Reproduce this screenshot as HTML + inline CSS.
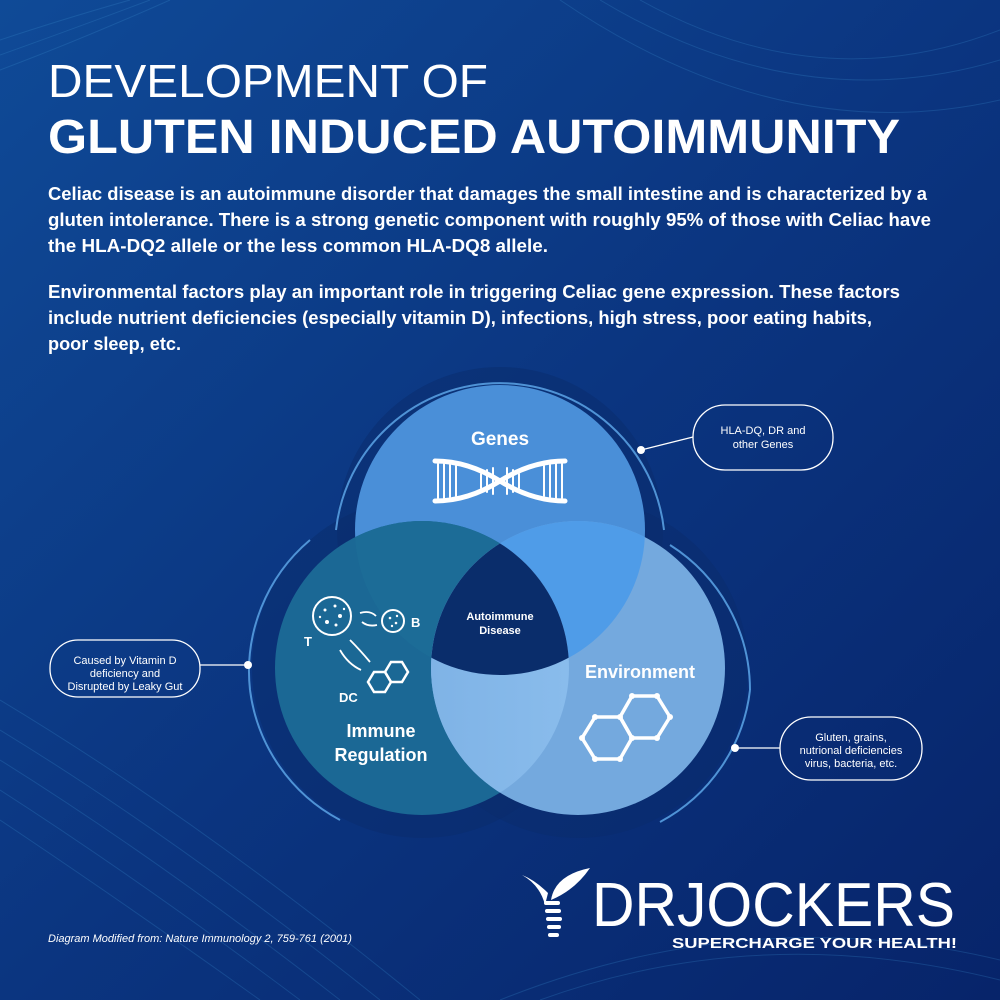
<!DOCTYPE html>
<html><head><meta charset="utf-8"><style>
html,body{margin:0;padding:0;width:1000px;height:1000px;overflow:hidden;background:#0b2e72}
svg{display:block}
text{font-family:"Liberation Sans",sans-serif;fill:#fff}
</style></head><body>
<svg width="1000" height="1000" viewBox="0 0 1000 1000" xmlns="http://www.w3.org/2000/svg">
<defs>
<linearGradient id="bg" x1="0" y1="0" x2="1" y2="1">
<stop offset="0" stop-color="#0f4a97"/><stop offset="0.5" stop-color="#0b3580"/><stop offset="1" stop-color="#07246a"/>
</linearGradient>
<clipPath id="cG"><circle cx="500" cy="530" r="145"/></clipPath>
<clipPath id="cI"><circle cx="422" cy="668" r="147"/></clipPath>
<linearGradient id="ie" x1="0" x2="1"><stop offset="0" stop-color="#7fb3e6"/><stop offset="1" stop-color="#95c6f2"/></linearGradient>
</defs>
<rect width="1000" height="1000" fill="url(#bg)"/>
<g fill="none" stroke="#3d8fd0" stroke-opacity="0.25" stroke-width="1">
<path d="M0 40 Q60 20 130 0"/><path d="M0 55 Q70 30 150 0"/><path d="M0 70 Q80 40 170 0"/>
<path d="M0 700 Q200 820 420 1000"/><path d="M0 730 Q180 840 380 1000"/><path d="M0 760 Q160 860 340 1000"/><path d="M0 790 Q140 880 300 1000"/><path d="M0 820 Q120 900 260 1000"/>
<path d="M600 0 Q800 120 1000 60"/><path d="M640 0 Q820 100 1000 30"/><path d="M560 0 Q780 150 1000 100"/>
<path d="M500 1000 Q750 900 1000 960"/><path d="M540 1000 Q760 920 1000 980"/>
</g>
<text x="48" y="97" font-size="46" textLength="440" lengthAdjust="spacingAndGlyphs">DEVELOPMENT OF</text>
<text x="48" y="153" font-size="48" font-weight="bold" textLength="852" lengthAdjust="spacingAndGlyphs">GLUTEN INDUCED AUTOIMMUNITY</text>
<g font-size="18" font-weight="bold">
<text x="48" y="200" textLength="879" lengthAdjust="spacingAndGlyphs">Celiac disease is an autoimmune disorder that damages the small intestine and is characterized by a</text>
<text x="48" y="226" textLength="883" lengthAdjust="spacingAndGlyphs">gluten intolerance.  There is a strong genetic component with roughly 95% of those with Celiac have</text>
<text x="48" y="252" textLength="500" lengthAdjust="spacingAndGlyphs">the HLA-DQ2 allele or the less common HLA-DQ8 allele.</text>
<text x="48" y="298" textLength="852" lengthAdjust="spacingAndGlyphs">Environmental factors play an important role in triggering Celiac gene expression.  These factors</text>
<text x="48" y="324" textLength="824" lengthAdjust="spacingAndGlyphs">include nutrient deficiencies (especially vitamin D), infections, high stress, poor eating habits,</text>
<text x="48" y="350" textLength="133" lengthAdjust="spacingAndGlyphs">poor sleep, etc.</text>
</g>
<g fill="#0a2c6c" fill-opacity="0.5"><circle cx="500" cy="530" r="163"/><circle cx="422" cy="668" r="170"/><circle cx="578" cy="668" r="170"/></g>
<g fill="none" stroke="#4f93d6" stroke-width="2">
<path d="M336 530 A165 165 0 0 1 664 530"/>
<path d="M250 690 A172 172 0 0 1 310 540"/>
<path d="M250 690 A172 172 0 0 0 340 820"/>
<path d="M750 690 A172 172 0 0 0 670 545"/>
<path d="M750 690 A172 172 0 0 1 660 822"/>
</g>
<circle cx="500" cy="530" r="145" fill="#4a8fd8"/>
<circle cx="422" cy="668" r="147" fill="#1b6895"/>
<circle cx="578" cy="668" r="147" fill="#74a9de"/>
<g clip-path="url(#cG)"><circle cx="422" cy="668" r="147" fill="#1c6c97"/><circle cx="578" cy="668" r="147" fill="#4f9ce8"/></g>
<g clip-path="url(#cI)"><circle cx="578" cy="668" r="147" fill="url(#ie)"/></g>
<g clip-path="url(#cG)"><g clip-path="url(#cI)"><circle cx="578" cy="668" r="147" fill="#0a2d6b"/></g></g>
<text x="500" y="445" font-size="19" font-weight="bold" text-anchor="middle">Genes</text>
<g stroke="#fff" fill="none" stroke-linecap="round">
<path d="M435 461 Q468 461 500 481 Q532 501 565 501" stroke-width="5"/>
<path d="M435 501 Q468 501 500 481 Q532 461 565 461" stroke-width="5"/>
<g stroke-width="2">
<line x1="438" y1="464" x2="438" y2="498"/><line x1="444" y1="464" x2="444" y2="498"/><line x1="450" y1="465" x2="450" y2="497"/><line x1="456" y1="466" x2="456" y2="496"/>
<line x1="481" y1="474" x2="481" y2="488"/><line x1="487" y1="470" x2="487" y2="492"/><line x1="493" y1="468" x2="493" y2="494"/>
<line x1="507" y1="468" x2="507" y2="494"/><line x1="513" y1="470" x2="513" y2="492"/><line x1="519" y1="474" x2="519" y2="488"/>
<line x1="544" y1="466" x2="544" y2="496"/><line x1="550" y1="465" x2="550" y2="497"/><line x1="556" y1="464" x2="556" y2="498"/><line x1="562" y1="464" x2="562" y2="498"/>
</g></g>
<text x="500" y="620" font-size="11" font-weight="bold" text-anchor="middle">Autoimmune</text>
<text x="500" y="634" font-size="11" font-weight="bold" text-anchor="middle">Disease</text>
<text x="640" y="678" font-size="18" font-weight="bold" text-anchor="middle">Environment</text>
<text x="381" y="737" font-size="18" font-weight="bold" text-anchor="middle">Immune</text>
<text x="381" y="761" font-size="18" font-weight="bold" text-anchor="middle">Regulation</text>
<g transform="translate(1,12)">
<g stroke="#fff" stroke-width="3.5" fill="none" stroke-linejoin="round">
<polygon points="594,705 619,705 631,726 619,747 594,747 581,726"/>
<polygon points="631,684 656,684 669,705 656,726 631,726 619,705"/>
</g>
<g fill="#fff"><circle cx="594" cy="705" r="3"/><circle cx="619" cy="705" r="3"/><circle cx="631" cy="726" r="3"/><circle cx="619" cy="747" r="3"/><circle cx="594" cy="747" r="3"/><circle cx="581" cy="726" r="3"/><circle cx="631" cy="684" r="3"/><circle cx="656" cy="684" r="3"/><circle cx="669" cy="705" r="3"/><circle cx="656" cy="726" r="3"/></g>
</g>
<circle cx="332" cy="616" r="19" fill="none" stroke="#fff" stroke-width="2"/>
<g fill="#fff"><circle cx="325" cy="610" r="1.5"/><circle cx="335" cy="606" r="1.5"/><circle cx="340" cy="616" r="2"/><circle cx="327" cy="622" r="2"/><circle cx="336" cy="625" r="1.5"/><circle cx="320" cy="617" r="1.2"/><circle cx="344" cy="609" r="1.2"/></g>
<circle cx="393" cy="621" r="11" fill="none" stroke="#fff" stroke-width="2"/>
<g fill="#fff"><circle cx="390" cy="618" r="1.3"/><circle cx="396" cy="623" r="1.3"/><circle cx="392" cy="626" r="1.2"/><circle cx="397" cy="616" r="1.2"/></g>
<path d="M360 613 Q370 610 376 616" stroke="#fff" stroke-width="1.8" fill="none"/>
<path d="M377 625 Q368 627 362 622" stroke="#fff" stroke-width="1.8" fill="none"/>
<text x="411" y="627" font-size="13" font-weight="bold">B</text>
<text x="304" y="646" font-size="13" font-weight="bold">T</text>
<path d="M350 640 Q360 650 370 662" stroke="#fff" stroke-width="1.8" fill="none"/>
<path d="M340 650 Q348 664 361 670" stroke="#fff" stroke-width="1.8" fill="none"/>
<g stroke="#fff" stroke-width="2.5" fill="none"><polygon points="374,672 385,672 391,682 385,692 374,692 368,682"/><polygon points="391,662 402,662 408,672 402,682 391,682 385,672"/></g>
<text x="339" y="702" font-size="13" font-weight="bold">DC</text>
<g stroke="#fff" stroke-width="1.3" fill="none">
<line x1="641" y1="450" x2="693" y2="437"/>
<rect x="693" y="405" width="140" height="65" rx="32"/>
<line x1="200" y1="665" x2="248" y2="665"/>
<rect x="50" y="640" width="150" height="57" rx="28"/>
<line x1="735" y1="748" x2="780" y2="748"/>
<rect x="780" y="717" width="142" height="63" rx="31"/>
</g>
<g fill="#fff"><circle cx="641" cy="450" r="4"/><circle cx="248" cy="665" r="4"/><circle cx="735" cy="748" r="4"/></g>
<g font-size="11" text-anchor="middle">
<text x="763" y="434">HLA-DQ, DR and</text><text x="763" y="448">other Genes</text>
<text x="125" y="664">Caused by Vitamin D</text><text x="125" y="677">deficiency and</text><text x="125" y="690">Disrupted by Leaky Gut</text>
<text x="851" y="741">Gluten, grains,</text><text x="851" y="754">nutrional deficiencies</text><text x="851" y="767">virus, bacteria, etc.</text>
</g>
<text x="48" y="942" font-size="11" font-style="italic">Diagram Modified from: Nature Immunology 2, 759-761 (2001)</text>
<g fill="#fff">
<path d="M545 905 Q540 885 522 875 Q535 880 548 893 Z"/>
<path d="M551 900 Q555 875 590 868 Q575 890 551 900 Z"/>
<rect x="544" y="901" width="16" height="4" rx="2"/><rect x="545" y="909" width="16" height="4" rx="2"/><rect x="546" y="917" width="16" height="4" rx="2"/><rect x="547" y="925" width="14" height="4" rx="2"/><rect x="548" y="933" width="11" height="4" rx="2"/>
</g>
<text x="592" y="926" font-size="62" textLength="363" lengthAdjust="spacingAndGlyphs">DRJOCKERS</text>
<text x="672" y="948" font-size="15" font-weight="bold" textLength="285" lengthAdjust="spacingAndGlyphs">SUPERCHARGE YOUR HEALTH!</text>
</svg>
</body></html>
